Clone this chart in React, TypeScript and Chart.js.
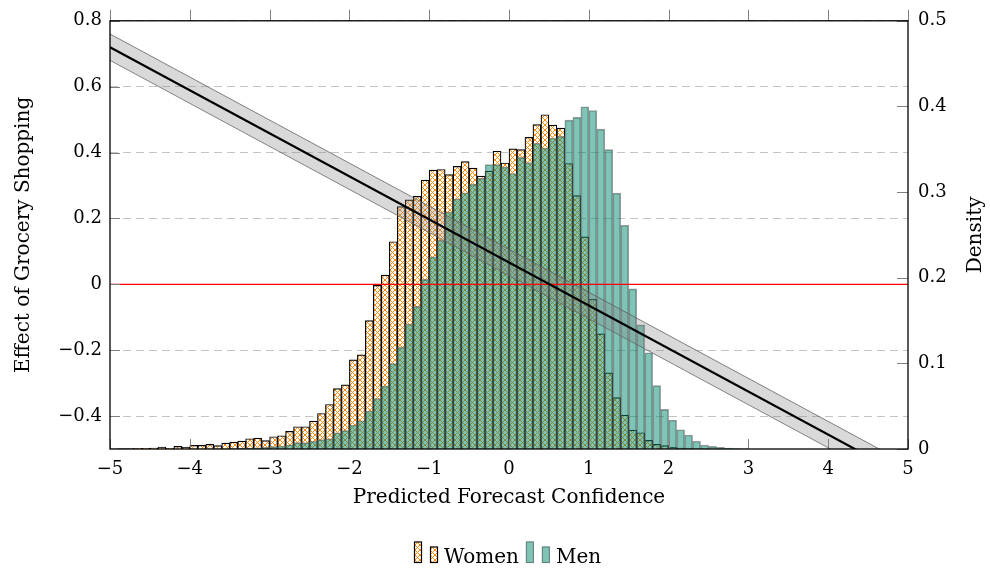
import React, { useEffect, useRef } from 'react';
import { Chart, registerables } from 'chart.js';

Chart.register(...registerables);

// Histogram bins: width 0.1 from -5 to 5 (bin centres)
const binStart = -5;
const binWidth = 0.1;
const binCount = 100;
const binCenters: number[] = Array.from({ length: binCount }, (_, i) => +(binStart + binWidth * (i + 0.5)).toFixed(2));

const womenDensity: number[] = [
  0.0002, 0.0005, 0.0006, 0.0008, 0.0008, 0.0012, 0.0022, 0.0008, 0.0031, 0.0023,
  0.0043, 0.0043, 0.0054, 0.0039, 0.0070, 0.0081, 0.0093, 0.0120, 0.0128, 0.0097,
  0.0143, 0.0155, 0.0205, 0.0260, 0.0260, 0.0326, 0.0415, 0.0520, 0.0705, 0.0750,
  0.1040, 0.1100, 0.1500, 0.1910, 0.2030, 0.2420, 0.2830, 0.2910, 0.2950, 0.3140,
  0.3256, 0.3264, 0.3205, 0.3300, 0.3357, 0.3280, 0.3186, 0.3244, 0.3477, 0.3340,
  0.3504, 0.3496, 0.3640, 0.3787, 0.3903, 0.3783, 0.3748, 0.3334, 0.2960, 0.2477,
  0.1748, 0.1345, 0.0890, 0.0600, 0.0395, 0.0220, 0.0190, 0.0100, 0.0055, 0.0040,
  0.0020, 0.0010, 0.0005, 0.0003, 0.0002, 0, 0, 0, 0, 0,
  0, 0, 0, 0, 0, 0, 0, 0, 0, 0,
  0, 0, 0, 0, 0, 0, 0, 0, 0, 0,
];

const menDensity: number[] = [
  0, 0, 0, 0, 0, 0, 0, 0, 0, 0,
  0.0001, 0.0001, 0.0002, 0.0002, 0.0003, 0.0005, 0.0008, 0.0010, 0.0015, 0.0020,
  0.0027, 0.0035, 0.0050, 0.0074, 0.0074, 0.0090, 0.0110, 0.0120, 0.0190, 0.0215,
  0.0280, 0.0330, 0.0444, 0.0590, 0.0734, 0.0996, 0.1190, 0.1460, 0.1665, 0.1980,
  0.2244, 0.2438, 0.2767, 0.2922, 0.2992, 0.3090, 0.3160, 0.3320, 0.3320, 0.3295,
  0.3217, 0.3405, 0.3345, 0.3570, 0.3515, 0.3632, 0.3650, 0.3840, 0.3872, 0.3996,
  0.3953, 0.3735, 0.3496, 0.2988, 0.2613, 0.1870, 0.1450, 0.1124, 0.0740, 0.0462,
  0.0337, 0.0225, 0.0164, 0.0090, 0.0047, 0.0031, 0.0020, 0.0010, 0.0005, 0.0002,
  0, 0, 0, 0, 0, 0, 0, 0, 0, 0,
  0, 0, 0, 0, 0, 0, 0, 0, 0, 0,
];

// Fitted effect line and its confidence band (left axis)
const fitX = [-5, 5];
const fitY = [0.72, -0.587];
const bandUpper = [0.76, -0.547];
const bandLower = [0.68, -0.627];
const zeroLineX = [-5, 5];
const zeroLineY = [0, 0];

// Ticks
const xTicks = [-5, -4, -3, -2, -1, 0, 1, 2, 3, 4, 5];
const leftTicks = [-0.4, -0.2, 0, 0.2, 0.4, 0.6, 0.8];
const rightTicks = [0, 0.1, 0.2, 0.3, 0.4, 0.5];
const rightTickLabels = ['0', '0.1', '0.2', '0.3', '0.4', '0.5'];

const seriesLabels = ['Women', 'Men'];
const xTitle = 'Predicted Forecast Confidence';
const leftTitle = 'Effect of Grocery Shopping';
const rightTitle = 'Density';

const SERIF = '"DejaVu Serif", "Liberation Serif", serif';
const ORANGE = 'rgb(255,140,0)';
const TEAL = 'rgba(0,137,112,0.5)';
const TEAL_BORDER = 'rgba(90,90,90,0.6)';

const fmt = (v: number) => (v < 0 ? '\u2212' + String(Math.abs(v)) : String(v));

function makeHatch(): CanvasPattern | string {
  const c = document.createElement('canvas');
  const s = 5;
  c.width = s;
  c.height = s;
  const g = c.getContext('2d');
  if (!g) return 'rgba(255,140,0,0.4)';
  g.fillStyle = '#ffffff';
  g.fillRect(0, 0, s, s);
  g.strokeStyle = ORANGE;
  g.lineWidth = 1;
  g.beginPath();
  g.moveTo(-1, -1);
  g.lineTo(s + 1, s + 1);
  g.moveTo(s + 1, -1);
  g.lineTo(-1, s + 1);
  g.stroke();
  return g.createPattern(c, 'repeat') || 'rgba(255,140,0,0.4)';
}

export default function App() {
  const ref = useRef<HTMLCanvasElement | null>(null);

  useEffect(() => {
    if (!ref.current) return;
    const hatch = makeHatch();

    const decor = {
      id: 'decor',
      afterDatasetsDraw(chart: any) {
        const { ctx, chartArea: a } = chart;
        const sx = chart.scales.x;
        const sy = chart.scales.y;
        const sy2 = chart.scales.y2;
        ctx.save();
        ctx.strokeStyle = '#808080';
        ctx.lineWidth = 1;
        ctx.beginPath();
        xTicks.forEach((v) => {
          const p = Math.round(sx.getPixelForValue(v)) + 0.5;
          ctx.moveTo(p, a.bottom);
          ctx.lineTo(p, a.bottom - 10);
          ctx.moveTo(p, a.top);
          ctx.lineTo(p, a.top - 11);
        });
        rightTicks.forEach((v) => {
          const p = Math.round(sy2.getPixelForValue(v)) + 0.5;
          ctx.moveTo(a.right, p);
          ctx.lineTo(a.right - 11, p);
        });
        leftTicks.forEach((v) => {
          const p = Math.round(sy.getPixelForValue(v)) + 0.5;
          ctx.moveTo(a.left, p);
          ctx.lineTo(a.left + 10, p);
        });
        ctx.stroke();
        ctx.strokeStyle = '#000';
        ctx.lineWidth = 1.3;
        ctx.strokeRect(a.left, a.top, a.right - a.left, a.bottom - a.top);
        ctx.restore();
      },
      afterDraw(chart: any) {
        const { ctx, chartArea: a } = chart;
        ctx.save();
        // right axis title, reading bottom to top
        ctx.font = '20px ' + SERIF;
        ctx.fillStyle = '#000';
        ctx.textAlign = 'center';
        ctx.textBaseline = 'middle';
        ctx.translate(976, (a.top + a.bottom) / 2);
        ctx.rotate(-Math.PI / 2);
        ctx.fillText(rightTitle, 0, 0);
        ctx.restore();

        // legend
        ctx.save();
        ctx.font = '20px ' + SERIF;
        const barW = 8;
        const gapBars = 8;
        const gapText = 6;
        const gapEntry = 7;
        const widths = seriesLabels.map((t) => barW * 2 + gapBars + gapText + ctx.measureText(t).width);
        const total = widths.reduce((s, w) => s + w, 0) + gapEntry * (seriesLabels.length - 1);
        let x = Math.round((a.left + a.right) / 2 - total / 2) - 1;
        const baseY = 563;
        const styles = [
          { fill: hatch, stroke: '#000' },
          { fill: TEAL, stroke: TEAL_BORDER },
        ];
        seriesLabels.forEach((t, i) => {
          const st = styles[i];
          const hs = [21.5, 16.5];
          for (let k = 0; k < 2; k++) {
            const bx = x + k * (barW + gapBars);
            ctx.fillStyle = st.fill as any;
            ctx.fillRect(bx, baseY - hs[k], barW, hs[k]);
            ctx.strokeStyle = st.stroke;
            ctx.lineWidth = 1.2;
            ctx.strokeRect(bx + 0.5, baseY - hs[k] + 0.5, barW - 1, hs[k] - 1);
          }
          const tx = x + barW * 2 + gapBars + gapText;
          ctx.fillStyle = '#000';
          ctx.textAlign = 'left';
          ctx.textBaseline = 'alphabetic';
          ctx.fillText(t, tx, baseY);
          x += widths[i] + gapEntry;
        });
        ctx.restore();
      },
    };

    const chart = new Chart(ref.current, {
      type: 'bar',
      data: {
        datasets: [
          {
            type: 'bar',
            label: seriesLabels[0],
            data: binCenters.map((c, i) => ({ x: c, y: womenDensity[i] })),
            yAxisID: 'y2',
            xAxisID: 'x',
            backgroundColor: hatch as any,
            borderColor: '#000',
            borderWidth: 1.2,
            grouped: false,
            barPercentage: 1,
            categoryPercentage: 1,
            order: 4,
          } as any,
          {
            type: 'bar',
            label: seriesLabels[1],
            data: binCenters.map((c, i) => ({ x: c, y: menDensity[i] })),
            yAxisID: 'y2',
            xAxisID: 'x',
            backgroundColor: TEAL,
            borderColor: TEAL_BORDER,
            borderWidth: 1,
            grouped: false,
            barPercentage: 1,
            categoryPercentage: 1,
            order: 3,
          } as any,
          {
            type: 'line',
            label: 'band upper',
            data: fitX.map((x, i) => ({ x, y: bandUpper[i] })),
            yAxisID: 'y',
            xAxisID: 'x',
            borderColor: 'rgba(90,90,90,0.75)',
            borderWidth: 1,
            backgroundColor: 'rgba(128,128,128,0.3)',
            fill: '+1',
            pointRadius: 0,
            order: 2,
          } as any,
          {
            type: 'line',
            label: 'band lower',
            data: fitX.map((x, i) => ({ x, y: bandLower[i] })),
            yAxisID: 'y',
            xAxisID: 'x',
            borderColor: 'rgba(90,90,90,0.75)',
            borderWidth: 1,
            fill: false,
            pointRadius: 0,
            order: 2,
          } as any,
          {
            type: 'line',
            label: 'zero',
            data: zeroLineX.map((x, i) => ({ x, y: zeroLineY[i] })),
            yAxisID: 'y',
            xAxisID: 'x',
            borderColor: 'rgb(255,0,0)',
            borderWidth: 1.2,
            fill: false,
            pointRadius: 0,
            order: 1,
          } as any,
          {
            type: 'line',
            label: 'effect',
            data: fitX.map((x, i) => ({ x, y: fitY[i] })),
            yAxisID: 'y',
            xAxisID: 'x',
            borderColor: '#000',
            borderWidth: 2.2,
            fill: false,
            pointRadius: 0,
            order: 0,
          } as any,
        ],
      },
      options: {
        animation: false,
        responsive: false,
        devicePixelRatio: 1,
        layout: { padding: { left: 0, right: 0, top: 19, bottom: 60 } },
        plugins: {
          legend: { display: false },
          tooltip: { enabled: false },
        },
        scales: {
          x: {
            type: 'linear',
            position: 'bottom',
            min: -5,
            max: 5,
            offset: false,
            grid: { display: false, offset: false },
            border: { display: false },
            afterBuildTicks: (s: any) => {
              s.ticks = xTicks.map((v) => ({ value: v }));
            },
            afterFit: (s: any) => {
              s.height = 62;
            },
            ticks: {
              padding: 2,
              color: '#000',
              font: { family: SERIF, size: 18 },
              maxRotation: 0,
              autoSkip: false,
              callback: (v: any) => fmt(Number(v)),
            },
            title: {
              display: true,
              text: xTitle,
              color: '#000',
              font: { family: SERIF, size: 20 },
              padding: { top: 0, bottom: 1 },
            },
          },
          y: {
            type: 'linear',
            position: 'left',
            min: -0.5,
            max: 0.8,
            afterBuildTicks: (s: any) => {
              s.ticks = leftTicks.map((v) => ({ value: v }));
            },
            afterFit: (s: any) => {
              s.width = 110;
            },
            grid: { display: true, color: 'rgba(190,190,190,0.9)', lineWidth: 1, drawTicks: false },
            border: { display: false, dash: [8, 5] },
            ticks: {
              padding: 8,
              color: '#000',
              font: { family: SERIF, size: 18 },
              callback: (v: any) => fmt(Number(v)),
            },
            title: {
              display: true,
              text: leftTitle,
              color: '#000',
              font: { family: SERIF, size: 20 },
              padding: { top: 12, bottom: 0 },
            },
          },
          y2: {
            type: 'linear',
            position: 'right',
            min: 0,
            max: 0.5,
            afterBuildTicks: (s: any) => {
              s.ticks = rightTicks.map((v) => ({ value: v }));
            },
            afterFit: (s: any) => {
              s.width = 82;
            },
            grid: { display: false, drawTicks: false },
            border: { display: false },
            ticks: {
              padding: 10,
              color: '#000',
              font: { family: SERIF, size: 18 },
              callback: (v: any) => {
                const i = rightTicks.indexOf(Number(v));
                return i >= 0 ? rightTickLabels[i] : '';
              },
            },
          },
        },
      } as any,
      plugins: [decor],
    });

    return () => chart.destroy();
  }, []);

  return (
    <div style={{ position: 'fixed', left: 0, top: 0, width: 990, height: 571, background: '#fff' }}>
      <canvas ref={ref} width={990} height={571} style={{ display: 'block', width: 990, height: 571 }} />
    </div>
  );
}
